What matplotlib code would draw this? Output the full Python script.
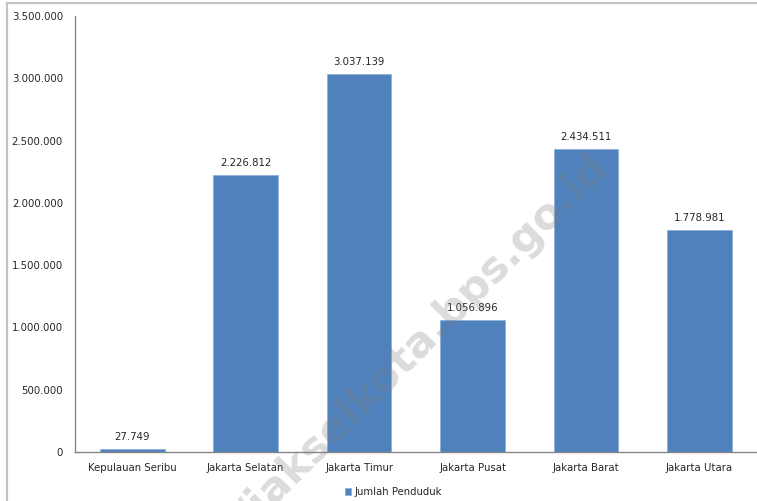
import matplotlib.pyplot as plt
from matplotlib.lines import Line2D
from matplotlib.ticker import FuncFormatter

wilayah = ["Kepulauan Seribu", "Jakarta Selatan", "Jakarta Timur",
           "Jakarta Pusat", "Jakarta Barat", "Jakarta Utara"]
penduduk = [27749, 2226812, 3037139, 1056896, 2434511, 1778981]
y_ticks = [0, 500000, 1000000, 1500000, 2000000, 2500000, 3000000, 3500000]


def titik(v):
    # thousands separated with dots
    return f"{int(v):,}".replace(",", ".")


plt.rcParams['font.family'] = ['DejaVu Sans']
fig = plt.figure(figsize=(7.57, 5.01), dpi=100)
ax = fig.add_axes([0.0997, 0.0978, 0.8993, 0.8702])

x = range(len(wilayah))
bars = ax.bar(x, penduduk, width=0.57, color="#4f81bd", edgecolor="#8eb0da",
              linewidth=0.6, label="Jumlah Penduduk", zorder=2)

for b, v in zip(bars, penduduk):
    ax.annotate(titik(v), (b.get_x() + b.get_width() / 2, v),
                xytext=(0, 5), textcoords="offset points",
                ha="center", va="bottom", fontsize=7.3, color="#262626")

ax.set_xlim(-0.5, len(wilayah) - 0.5)
ax.set_ylim(0, 3500000)
ax.set_yticks(y_ticks)
ax.yaxis.set_major_formatter(FuncFormatter(lambda v, p: titik(v)))
ax.set_xticks(list(x))
ax.set_xticklabels(wilayah)
ax.tick_params(axis="both", length=0, labelsize=7.3, labelcolor="#262626")
ax.tick_params(axis="y", pad=9)
ax.tick_params(axis="x", pad=8)

for s in ["top", "right"]:
    ax.spines[s].set_visible(False)
for s in ["left", "bottom"]:
    ax.spines[s].set_color("#868686")
    ax.spines[s].set_linewidth(1)

leg = fig.legend(handles=[bars], labels=["Jumlah Penduduk"], loc="center",
                 bbox_to_anchor=(0.52, 0.018), frameon=False, fontsize=7.3,
                 handlelength=0.6, handleheight=0.6, handletextpad=0.3)
for t in leg.get_texts():
    t.set_color("#262626")

# frame lines on top and left
fig.add_artist(Line2D([0.009, 0.009], [0, 0.994], transform=fig.transFigure,
                      color="#c4c4c4", linewidth=1.6))
fig.add_artist(Line2D([0.009, 1], [0.994, 0.994], transform=fig.transFigure,
                      color="#c4c4c4", linewidth=1.6))

# watermark
fig.text(0.495, 0.228, "http://jakselkota.bps.go.id", rotation=45,
         ha="center", va="center", fontsize=31, fontweight="bold",
         color="#808080", alpha=0.28, zorder=10)

fig.savefig("out.png", dpi=100)
